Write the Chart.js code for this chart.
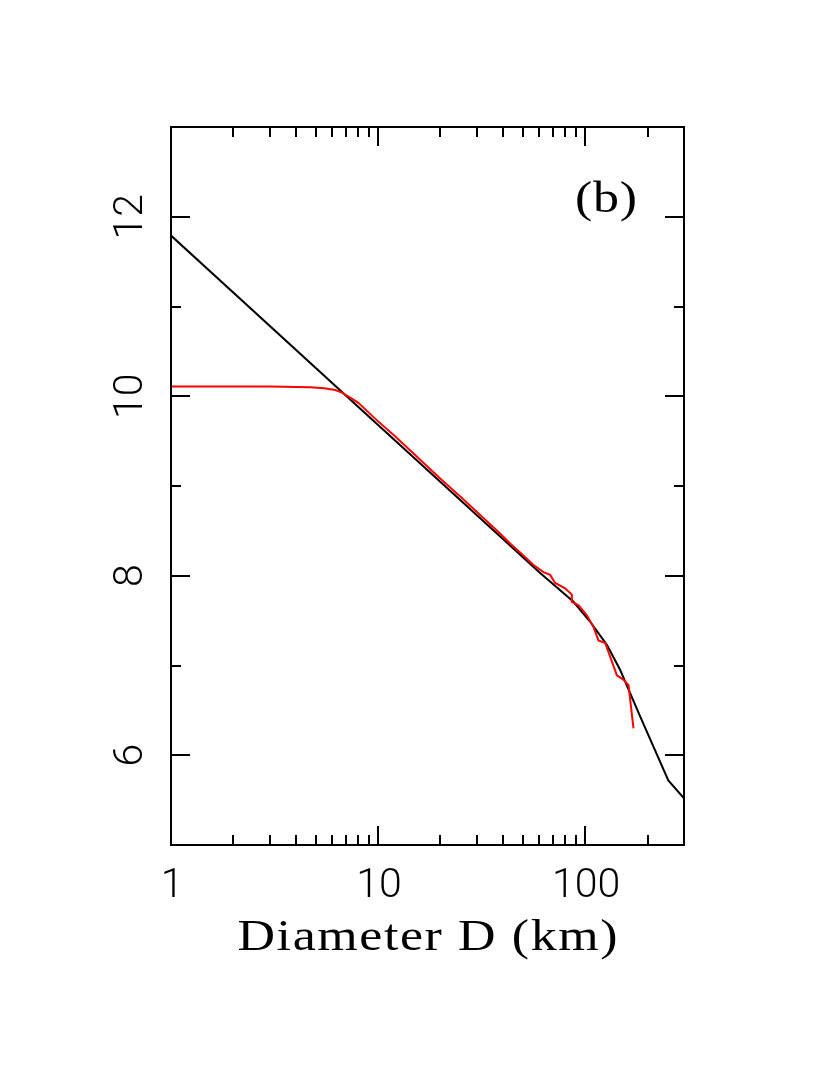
<!DOCTYPE html>
<html><head><meta charset="utf-8">
<script src="https://cdn.jsdelivr.net/npm/chart.js@4"></script>
<style>html,body{margin:0;padding:0;background:#fff;}#wrap{width:830px;height:1075px;position:relative;}</style>
</head><body><div id="wrap"><canvas id="c" width="830" height="1075"></canvas></div>
<script>
// Model curve (black)
const modelD = [1, 10, 60.6, 87.8, 105.5, 127.3, 147.6, 184.4, 252, 300];
const modelN = [11.79, 9.68, 8.03, 7.71, 7.49, 7.23, 6.95, 6.43, 5.72, 5.52];
// Observed cumulative distribution (red)
const dataD = [1, 3, 4.7, 5.5, 6.2, 6.7, 8, 10, 12, 15, 20, 25, 30, 38.8, 43.4, 48.5, 56.3, 62.9, 67.7, 71.6, 80, 86.2, 86.2, 92.9, 101.9, 109.6, 115.9, 125, 129.6, 142.3, 153.2, 161.9, 171.1];
const dataN = [10.11, 10.11, 10.10, 10.09, 10.07, 10.04, 9.93, 9.72, 9.56, 9.35, 9.08, 8.88, 8.71, 8.47, 8.36, 8.26, 8.12, 8.04, 8.01, 7.92, 7.86, 7.79, 7.71, 7.67, 7.56, 7.43, 7.28, 7.25, 7.15, 6.89, 6.84, 6.78, 6.30];
// Axes
const xMin = 1, xMax = 300, yMin = 5, yMax = 13;
const xMajorTicks = [1, 10, 100];
const xMinorTicks = [2, 3, 4, 5, 6, 7, 8, 9, 20, 30, 40, 50, 60, 70, 80, 90, 200];
const xTickLabels = ['1', '10', '100'];
const yMajorTicks = [6, 8, 10, 12];
const yMinorTicks = [7, 9, 11];
const yTickLabels = ['6', '8', '10', '12'];
const xTitle = 'Diameter D (km)';
const panelLabel = '(b)';

const toPts = (xs, ys) => xs.map((x, i) => ({x: x, y: ys[i]}));

function serifText(ctx, text, left, baseline, targetW, sx) {
  ctx.save();
  ctx.font = '44px "Liberation Serif", "DejaVu Serif", serif';
  ctx.textAlign = 'left';
  ctx.letterSpacing = '0px';
  const w0 = ctx.measureText(text).width * sx;
  const sp = Math.max(0, (targetW - w0) / (text.length - 1));
  ctx.translate(left, baseline);
  ctx.scale(sx, 1);
  ctx.letterSpacing = (sp / sx).toFixed(2) + 'px';
  ctx.fillText(text, 0, 0);
  ctx.restore();
}

const framePlugin = {
  id: 'frame',
  afterDraw(chart) {
    const ctx = chart.ctx, a = chart.chartArea;
    const xs = chart.scales.x, ys = chart.scales.y;
    ctx.save();
    ctx.strokeStyle = '#000';
    ctx.lineWidth = 2;
    ctx.strokeRect(a.left, a.top, a.right - a.left, a.bottom - a.top);
    const MAJ = 19, MIN = 10;
    ctx.beginPath();
    const xt = (v, len) => {
      const p = Math.round(xs.getPixelForValue(v));
      ctx.moveTo(p, a.bottom); ctx.lineTo(p, a.bottom - len);
      ctx.moveTo(p, a.top); ctx.lineTo(p, a.top + len);
    };
    const yt = (v, len) => {
      const p = Math.round(ys.getPixelForValue(v));
      ctx.moveTo(a.left, p); ctx.lineTo(a.left + len, p);
      ctx.moveTo(a.right, p); ctx.lineTo(a.right - len, p);
    };
    xMajorTicks.forEach(v => xt(v, MAJ));
    xMinorTicks.forEach(v => xt(v, MIN));
    yMajorTicks.forEach(v => yt(v, MAJ));
    yMinorTicks.forEach(v => yt(v, MIN));
    ctx.stroke();

    ctx.fillStyle = '#000';
    ctx.font = '300 41px Roboto, "Liberation Sans", sans-serif';
    ctx.textAlign = 'center';
    ctx.textBaseline = 'alphabetic';
    xMajorTicks.forEach((v, i) => {
      ctx.fillText(xTickLabels[i], xs.getPixelForValue(v) + 1, 897);
    });
    yMajorTicks.forEach((v, i) => {
      ctx.save();
      ctx.translate(142, ys.getPixelForValue(v));
      ctx.rotate(-Math.PI / 2);
      ctx.fillText(yTickLabels[i], 0, 0);
      ctx.restore();
    });

    serifText(ctx, xTitle, (a.left + a.right) / 2 - 190, 950, 380, 1.18);
    serifText(ctx, panelLabel, 575, 212, 62, 1.18);
    ctx.restore();
  }
};

new Chart(document.getElementById('c'), {
  type: 'scatter',
  data: {
    datasets: [
      { label: 'data', data: toPts(dataD, dataN), showLine: true, borderColor: '#ff0000', borderWidth: 2, pointRadius: 0, fill: false, tension: 0 },
      { label: 'model', data: toPts(modelD, modelN), showLine: true, borderColor: '#000000', borderWidth: 2, pointRadius: 0, fill: false, tension: 0 }
    ]
  },
  options: {
    responsive: false,
    animation: false,
    devicePixelRatio: 1,
    layout: { padding: { left: 171, top: 127, right: 146, bottom: 230 } },
    plugins: { legend: { display: false }, tooltip: { enabled: false } },
    scales: {
      x: { type: 'logarithmic', min: xMin, max: xMax, display: false },
      y: { type: 'linear', min: yMin, max: yMax, display: false }
    }
  },
  plugins: [framePlugin]
});
</script></body></html>
